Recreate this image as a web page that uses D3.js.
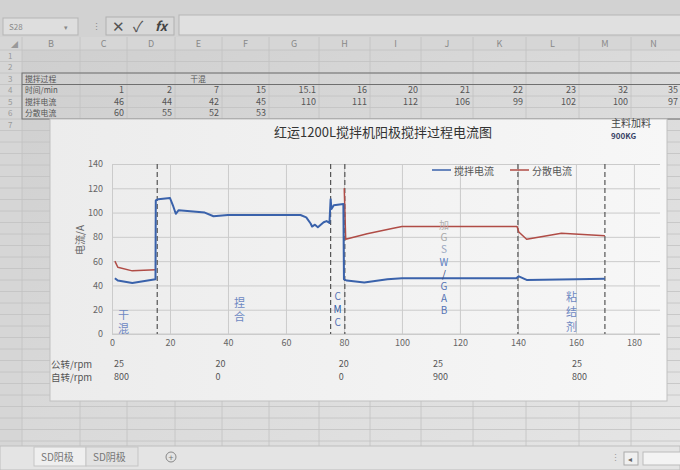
<!DOCTYPE html>
<html><head><meta charset="utf-8">
<script src="https://cdn.jsdelivr.net/npm/d3@7"></script>
<style>
html,body{margin:0;padding:0;background:#dcdcdc;overflow:hidden}
svg{display:block}
text{font-family:"Noto Sans CJK SC","Noto Sans",sans-serif}
.vt{writing-mode:vertical-rl;text-orientation:upright}
</style>
</head><body>
<svg id="c" width="680" height="470"></svg>
<script>
// ---------- data ----------
const colLetters = ["B","C","D","E","F","G","H","I","J","K","L","M","N"];
const rowNames = ["搅拌过程","时间/min","搅拌电流","分散电流"];
const timeMin = [1,2,7,15,15.1,16,20,21,22,23,32,35];
const stirTable = [46,44,42,45,110,111,112,106,99,102,100,97];
const dispTable = [60,55,52,53];

const stirTimeRest = [40,50,60,65,67,68.5,69,70,71,72,73,74,75,75.4,75.7,76.5,79.8,80,81,87,95,100,120,139.5,140.3,143,160,170];
const stirValueRest = [98,98,98,98,96,91,88.5,90,88,90,92,93,91.5,111,103,106,107,45,44,42.5,45,46,46,46,47.5,44.5,45,45.5];
const dispTimeRest = [80.1,80.6,88,97,100,120,139.7,140.3,143,155,170];
const dispValueRest = [120,78,82.5,87,88.5,88.5,88.5,84,78,83,81];

const seriesNames = ["搅拌电流","分散电流"];
const xTicks = [0,20,40,60,80,100,120,140,160,180];
const yTicks = [0,20,40,60,80,100,120,140];
const phaseBounds = [15.6,75.4,80.3,140,170];
const phaseLabels = ["干混","捏合","CMC","加GSW/GAB","粘结剂"];
const phaseLabelX = [4,44,77.8,114.5,158.5];
const phaseLabelTop = [15.6,25.5,31,90,31];
const rpmStart = [0,35,77.5,110,158];
const revolution = [25,20,20,25,25];
const rotation = [800,0,0,900,800];
const title = "红运1200L搅拌机阳极搅拌过程电流图";
const note = ["主料加料","900KG"];

// ---------- layout ----------
const svg = d3.select("#c");
const W = 680, H = 470;
const defs = svg.append("defs");
const bg = defs.append("linearGradient").attr("id","bg").attr("x1","0").attr("y1","0").attr("x2","1").attr("y2","1");
bg.append("stop").attr("offset","0").attr("stop-color","#cdcdcd");
bg.append("stop").attr("offset","1").attr("stop-color","#e6e6e6");
const cg = defs.append("linearGradient").attr("id","cg").attr("x1","0").attr("y1","0").attr("x2","1").attr("y2","0");
cg.append("stop").attr("offset","0").attr("stop-color","#ececec");
cg.append("stop").attr("offset","1").attr("stop-color","#f7f7f7");

svg.append("rect").attr("width",W).attr("height",H).attr("fill","url(#bg)");

// formula bar
svg.append("rect").attr("x",0).attr("y",0).attr("width",W).attr("height",37).attr("fill","#d2d2d2");
svg.append("rect").attr("x",3).attr("y",18).attr("width",75).attr("height",17).attr("fill","#dedede").attr("stroke","#b5b5b5");
svg.append("text").attr("x",9).attr("y",30).attr("font-size",8).attr("fill","#8a8a8a").text("S28");
svg.append("text").attr("x",64).attr("y",30).attr("font-size",7).attr("fill","#888").text("▾");
svg.append("text").attr("x",92).attr("y",30).attr("font-size",9).attr("fill","#888").text("⋮");
svg.append("rect").attr("x",106).attr("y",17).attr("width",68).attr("height",18).attr("fill","#d8d8d8").attr("stroke","#b0b0b0");
svg.append("text").attr("x",112).attr("y",32).attr("font-size",15).attr("fill","#555").text("✕");
svg.append("text").attr("x",133).attr("y",32).attr("font-size",15).attr("fill","#555").text("✓");
svg.append("text").attr("x",155).attr("y",31).attr("font-size",13).attr("font-style","italic").attr("font-weight","bold").attr("font-family","Liberation Serif").attr("fill","#444").text("fx");
svg.append("rect").attr("x",179).attr("y",15).attr("width",510).attr("height",20).attr("fill","#e0e0e0").attr("stroke","#b5b5b5");

// sheet grid
const colEdges = [22,80,127,175,222,269,319,370,421,473,526,579,631,683];
const rowTop = 50, rowH = 11.5;
svg.append("rect").attr("x",0).attr("y",37).attr("width",W).attr("height",13).attr("fill","#d6d6d6");
svg.append("rect").attr("x",0).attr("y",50).attr("width",22).attr("height",396).attr("fill","#d6d6d6");
const grid = svg.append("g").attr("stroke","#c2c2c2").attr("stroke-width",0.8);
colEdges.forEach(cx => grid.append("line").attr("x1",cx).attr("x2",cx).attr("y1",37).attr("y2",446));
for (let i = 0; i <= 36; i++) {
  const yy = rowTop + i*rowH;
  if (yy > 446) break;
  grid.append("line").attr("x1",0).attr("x2",W).attr("y1",yy).attr("y2",yy);
}
svg.append("text").attr("x",11).attr("y",47).attr("font-size",7).attr("fill","#999").text("◢");
colLetters.forEach((l,i) => {
  svg.append("text").attr("x",(colEdges[i]+Math.min(colEdges[i+1],676))/2).attr("y",47).attr("text-anchor","middle")
    .attr("font-size",9).attr("font-family","Liberation Serif").attr("fill","#888").text(l);
});
for (let r = 1; r <= 7; r++) {
  svg.append("text").attr("x",8).attr("y",rowTop + (r-1)*rowH + 8.5).attr("font-size",8)
    .attr("font-family","Liberation Sans").attr("fill","#999").text(r);
}
// table contents
const tbl = svg.append("g").attr("fill","#555");
const cellRight = i => Math.min(colEdges[i+2]-3, 678);
const rowBase = r => rowTop + r*rowH + 8.8;
rowNames.forEach((n,i) => tbl.append("text").attr("x",25).attr("y",rowBase(i+2)).attr("font-size",7.8).text(n));
tbl.append("text").attr("x",(colEdges[2]+colEdges[5])/2).attr("y",rowBase(2)).attr("font-size",7.8).attr("text-anchor","middle").text("干混");
const numCell = (arr,r) => arr.forEach((t,i) => tbl.append("text").attr("x",cellRight(i)).attr("y",rowBase(r))
  .attr("text-anchor","end").attr("font-size",9).attr("font-family","Liberation Sans").text(t));
numCell(timeMin,3); numCell(stirTable,4); numCell(dispTable,5);
svg.append("rect").attr("x",22).attr("y",rowTop+2*rowH).attr("width",661).attr("height",4*rowH).attr("fill","none").attr("stroke","#6f6f6f").attr("stroke-width",1);
svg.append("line").attr("x1",22).attr("x2",683).attr("y1",rowTop+3*rowH).attr("y2",rowTop+3*rowH).attr("stroke","#6f6f6f");

// sheet tabs
svg.append("rect").attr("x",0).attr("y",446).attr("width",W).attr("height",24).attr("fill","#e4e4e4").attr("stroke","#bdbdbd");
svg.append("rect").attr("x",34).attr("y",447).attr("width",52).attr("height",19).attr("fill","#efefef").attr("stroke","#c5c5c5");
svg.append("rect").attr("x",86).attr("y",447).attr("width",52).attr("height",19).attr("fill","#e2e2e2").attr("stroke","#c5c5c5");
svg.append("text").attr("x",41).attr("y",461).attr("font-size",10).attr("fill","#777").text("SD阳极");
svg.append("text").attr("x",93).attr("y",461).attr("font-size",10).attr("fill","#777").text("SD阴极");
svg.append("circle").attr("cx",171).attr("cy",457).attr("r",5).attr("fill","none").attr("stroke","#888");
svg.append("text").attr("x",171).attr("y",460.5).attr("text-anchor","middle").attr("font-size",9).attr("fill","#777").text("+");
svg.append("text").attr("x",611).attr("y",461).attr("font-size",9).attr("fill","#999").text("⋮");
svg.append("rect").attr("x",624).attr("y",452).attr("width",14).attr("height",13).attr("fill","#f0f0f0").attr("stroke","#aaa");
svg.append("text").attr("x",628).attr("y",462).attr("font-size",8).attr("fill","#666").text("◂");
svg.append("rect").attr("x",643).attr("y",452).attr("width",40).attr("height",13).attr("fill","#f3f3f3").attr("stroke","#bbb");

// ---------- chart ----------
svg.append("rect").attr("x",50).attr("y",119).attr("width",617).attr("height",282).attr("fill","url(#cg)").attr("stroke","#c0c0c0");

const L = 112, R = 660, T = 164, B = 334;
const x = d3.scaleLinear().domain([0,189]).range([L,R]);
const y = d3.scaleLinear().domain([0,140]).range([B,T]);

const gy = svg.append("g").attr("transform",`translate(${L},0)`)
  .call(d3.axisLeft(y).tickValues(yTicks).tickSize(-(R-L)).tickPadding(9));
gy.select(".domain").remove();
gy.selectAll(".tick line").attr("stroke","#cbcbcb");
gy.selectAll(".tick text").attr("font-size",9).attr("fill","#666").attr("font-family","Liberation Sans");

const gx = svg.append("g").attr("transform",`translate(0,${B})`)
  .call(d3.axisBottom(x).tickValues(xTicks).tickSize(-(B-T)).tickPadding(6));
gx.select(".domain").attr("stroke","#cbcbcb").attr("d",`M${L},0H${R}`);
gx.selectAll(".tick line").attr("stroke","#cbcbcb");
gx.selectAll(".tick text").attr("font-size",9).attr("fill","#666").attr("font-family","Liberation Sans");

// phase dashed lines
svg.append("g").selectAll("line").data(phaseBounds).join("line")
  .attr("x1",d=>x(d)).attr("x2",d=>x(d)).attr("y1",y(140)).attr("y2",y(0))
  .attr("stroke","#555").attr("stroke-width",1.2).attr("stroke-dasharray","5,3");

// series
const stirData = timeMin.map((t,i)=>[t,stirTable[i]]).concat(stirTimeRest.map((t,i)=>[t,stirValueRest[i]]));
const dispData = timeMin.slice(0,dispTable.length).map((t,i)=>[t,dispTable[i]]).concat([null]).concat(dispTimeRest.map((t,i)=>[t,dispValueRest[i]]));
const line = d3.line().defined(d=>d!==null).x(d=>x(d[0])).y(d=>y(d[1]));
svg.append("path").datum(dispData).attr("d",line).attr("fill","none").attr("stroke","#b04c46").attr("stroke-width",1.5).attr("stroke-linejoin","round");
svg.append("path").datum(stirData).attr("d",line).attr("fill","none").attr("stroke","#3a62ab").attr("stroke-width",2).attr("stroke-linejoin","round");

// phase labels (vertical text, one element each)
const charColors = {
  "干混":["#6d88c2","#6d88c2"],
  "捏合":["#6d88c2","#6d88c2"],
  "CMC":["#5573b5","#2f55a0","#5573b5"],
  "加GSW/GAB":["#b0b0b0","#a8a8a8","#9aa6bf","#5b7fc2","#334a80","#5573b5","#5573b5","#5573b5"],
  "粘结剂":["#6d88c2","#6d88c2","#6d88c2"]
};
const steps = [14,14,13,12.2,15];
const fsz = [11,11,10,10,11];
phaseLabels.forEach((lab,i) => {
  const t = svg.append("text").attr("class","vt")
    .attr("x",x(phaseLabelX[i])).attr("y",y(phaseLabelTop[i]) - fsz[i]/2)
    .attr("font-size",fsz[i]).attr("letter-spacing",steps[i]-fsz[i]);
  Array.from(lab).forEach((ch,j) => t.append("tspan").attr("fill",charColors[lab][j]).text(ch));
});

// title and note
svg.append("text").attr("x",383).attr("y",137).attr("text-anchor","middle").attr("font-size",13).attr("fill","#333").text(title);
svg.append("text").attr("x",611).attr("y",127).attr("font-size",10).attr("fill","#444").text(note[0]);
svg.append("text").attr("x",611).attr("y",139).attr("font-size",8).attr("font-weight","bold").attr("fill","#3a4466").text(note[1]);

// y-axis title
svg.append("text").attr("transform","translate(79,240) rotate(-90)").attr("text-anchor","middle").attr("dominant-baseline","central")
  .attr("font-size",10).attr("fill","#666").text("电流/A");

// legend
const legColors = ["#3a62ab","#b04c46"];
const legX = [432,510];
seriesNames.forEach((n,i) => {
  svg.append("line").attr("x1",legX[i]).attr("x2",legX[i]+19).attr("y1",170).attr("y2",170).attr("stroke",legColors[i]).attr("stroke-width",1.5);
  svg.append("text").attr("x",legX[i]+22).attr("y",170).attr("dominant-baseline","central").attr("font-size",10).attr("fill","#555").text(n);
});

// rpm rows
svg.append("text").attr("x",51).attr("y",368).attr("font-size",9.5).attr("fill","#555").text("公转/rpm");
svg.append("text").attr("x",51).attr("y",381).attr("font-size",9.5).attr("fill","#555").text("自转/rpm");
rpmStart.forEach((s,i) => {
  svg.append("text").attr("x",x(s)+2).attr("y",367).attr("font-size",9).attr("fill","#555").attr("font-family","Liberation Sans").text(revolution[i]);
  svg.append("text").attr("x",x(s)+2).attr("y",380).attr("font-size",9).attr("fill","#555").attr("font-family","Liberation Sans").text(rotation[i]);
});
</script>
</body></html>
